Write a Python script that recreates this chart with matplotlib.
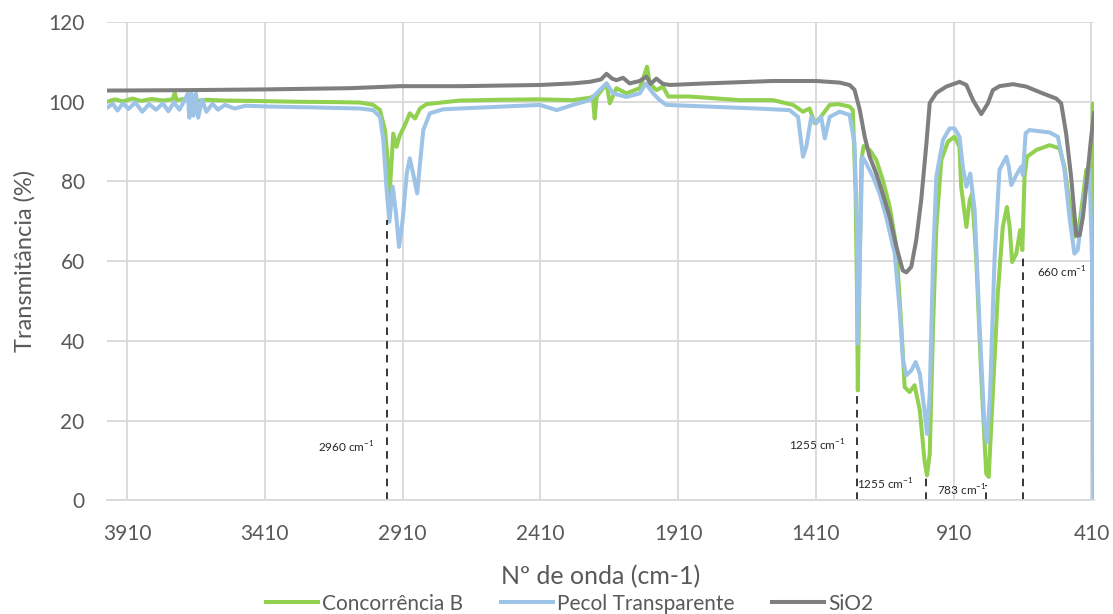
import matplotlib
matplotlib.use("Agg")
import matplotlib.pyplot as plt

plt.rcParams['font.family'] = ['Lato', 'DejaVu Sans']

# ---- data (wavenumber cm-1, transmittance %) ----
conc_wn = [3983, 3955, 3925, 3890, 3860, 3820, 3780, 3745, 3737, 3730, 3700, 3660,
           3620, 3560, 3450, 3300, 3150, 3065, 3017, 2992, 2974, 2962, 2958, 2944,
           2932, 2920, 2902, 2884, 2865, 2847, 2823, 2702, 2550, 2412, 2292, 2230,
           2220, 2213, 2206, 2170, 2158, 2134, 2098, 2049, 2023, 2013, 1989, 1965,
           1946, 1868, 1686, 1566, 1493, 1457, 1433, 1415, 1397, 1360, 1330, 1288,
           1276, 1266, 1261, 1258, 1251, 1245, 1237, 1215, 1191, 1167, 1142, 1118,
           1100, 1088, 1070, 1052, 1033, 1016, 1007, 997, 985, 973, 955, 931, 907,
           889, 883, 864, 852, 843, 828, 810, 792, 783, 768, 750, 732, 717, 707, 698,
           683, 669, 661, 653, 644, 610, 562, 526, 508, 490, 472, 460, 447, 429, 415,
           408, 405, 403]
conc_t = [100.0, 100.6, 100.1, 100.8, 100.2, 100.7, 100.3, 100.6, 102.2, 100.4, 100.7, 100.2,
          100.5, 100.3, 100.2, 100.0, 99.9, 99.8, 99.2, 97.9, 92.9, 83.7, 76.0, 92.0,
          88.7, 91.6, 94.1, 97.1, 95.8, 98.3, 99.4, 100.3, 100.5, 100.6, 100.4, 101.0,
          101.3, 95.8, 101.2, 104.6, 99.6, 103.4, 102.1, 103.4, 108.8, 104.6, 102.9, 103.8,
          101.3, 101.3, 100.4, 100.4, 99.2, 97.5, 98.3, 94.6, 95.8, 99.2, 99.4, 98.8,
          97.9, 77.0, 52.0, 27.6, 60.0, 85.4, 88.9, 87.9, 85.4, 80.3, 73.6, 63.6,
          43.5, 28.4, 27.2, 28.9, 22.6, 10.0, 6.3, 11.7, 43.5, 68.6, 85.4, 90.0, 91.2,
          88.7, 78.7, 68.6, 75.3, 77.0, 60.3, 31.0, 6.7, 5.9, 26.8, 51.9, 68.6, 73.6, 68.6, 59.8,
          61.9, 67.8, 62.8, 81.2, 86.2, 87.9, 89.1, 88.3, 83.7, 74.5, 66.1, 66.5, 72.8, 82.9, 83.7,
          68.6, 99.5, 48.0]

pecol_wn = [3983, 3962, 3945, 3925, 3905, 3880, 3855, 3830, 3805, 3780, 3760, 3740,
            3720, 3700, 3690, 3684, 3676, 3669, 3660, 3652, 3638, 3622, 3600, 3580,
            3555, 3520, 3480, 3400, 3250, 3065, 3017, 2992, 2980, 2968, 2958, 2946,
            2934, 2923, 2910, 2895, 2884, 2872, 2857, 2847, 2835, 2811, 2763, 2702,
            2412, 2351, 2292, 2231, 2170, 2146, 2098, 2049, 2028, 2001, 1977, 1953,
            1807, 1626, 1506, 1475, 1457, 1445, 1427, 1409, 1391, 1378, 1360, 1324,
            1288, 1270, 1261, 1258, 1251, 1242, 1227, 1203, 1179, 1155, 1124, 1106,
            1094, 1082, 1064, 1048, 1033, 1016, 1007, 997, 985, 973, 949, 925, 907,
            889, 877, 864, 850, 834, 816, 798, 789, 778, 762, 744, 719, 710, 701, 683,
            665, 659, 649, 635, 562, 532, 508, 490, 472, 460, 447, 429, 417, 408, 403]
pecol_t = [98.5, 99.5, 97.8, 99.6, 98.2, 99.8, 97.5, 99.4, 98.0, 99.6, 97.6, 99.8,
           98.0, 100.5, 102.0, 96.0, 102.0, 96.5, 102.0, 96.0, 100.5, 97.5, 99.5, 98.0,
           99.2, 98.3, 99.0, 98.8, 98.6, 98.3, 97.9, 96.2, 90.4, 77.8, 69.9, 78.7,
           72.0, 63.6, 70.3, 82.0, 85.8, 82.0, 77.0, 84.5, 92.9, 97.1, 98.1, 98.3,
           99.2, 97.9, 99.2, 100.4, 104.6, 102.1, 101.2, 102.1, 104.6, 102.1, 100.4, 99.2,
           98.8, 98.3, 97.9, 96.2, 86.2, 88.7, 96.2, 94.6, 96.2, 90.8, 96.2, 97.5,
           96.7, 89.6, 68.6, 39.3, 60.3, 86.2, 84.5, 81.2, 77.0, 71.1, 61.9, 47.7,
           35.1, 31.4, 32.6, 34.7, 31.8, 22.6, 16.7, 26.8, 60.3, 81.2, 90.4, 93.3, 93.3,
           91.2, 83.7, 78.7, 82.0, 72.8, 43.5, 18.4, 14.6, 26.8, 60.3, 82.9, 86.2, 83.7, 79.1, 81.6,
           83.7, 81.6, 92.1, 92.9, 92.3, 91.2, 82.9, 71.1, 61.9, 62.8, 70.3, 80.3, 82.9, 60.3, 0.8]

sio2_wn = [3983, 3700, 3400, 3100, 2920, 2700, 2412, 2292, 2230, 2190, 2170, 2150,
           2134, 2110, 2086, 2050, 2025, 2010, 1989, 1966, 1941, 1807, 1567, 1408,
           1324, 1288, 1270, 1251, 1233, 1215, 1191, 1168, 1142, 1118, 1095, 1082,
           1064, 1046, 1028, 1009, 997, 973, 937, 896, 889, 864, 840, 810, 786, 768,
           744, 695, 647, 587, 538, 520, 502, 484, 465, 453, 441, 423, 411, 401]
sio2_t = [102.8, 102.9, 103.1, 103.4, 103.9, 103.9, 104.2, 104.6, 105.0, 105.6, 107.0, 105.8,
          105.4, 106.0, 104.6, 105.2, 106.3, 104.5, 105.8, 104.5, 104.2, 104.6, 105.2, 105.2,
          104.8, 104.2, 103.0, 98.0, 91.2, 86.2, 82.0, 77.0, 71.0, 63.6, 57.7, 57.2,
          58.6, 65.3, 75.3, 89.6, 99.7, 102.2, 103.8, 104.8, 105.0, 104.2, 100.4, 96.9, 99.6, 102.9,
          103.9, 104.4, 103.8, 102.1, 100.8, 99.6, 92.0, 81.2, 66.5, 66.5, 71.1, 82.9, 91.2, 97.1]

# marked bands: position, height of the dashed marker, label
band_wn = [2968, 1260, 1010, 792, 659]
band_top = [70.3, 27.2, 5.9, 3.8, 61.0]
band_labels = ['2960', '1255', '1255', '783', '660']

x_ticks = [3910, 3410, 2910, 2410, 1910, 1410, 910, 410]
y_ticks = [0, 20, 40, 60, 80, 100, 120]

fig = plt.figure(figsize=(11.13, 6.14), dpi=100)
ax = fig.add_axes([0.0961, 0.1849, 0.8868, 0.7793])

ax.plot(conc_wn, conc_t, color='#92D050', lw=2.9, label='Concorrência B', solid_joinstyle='round')
ax.plot(pecol_wn, pecol_t, color='#9DC3E6', lw=2.9, label='Pecol Transparente', solid_joinstyle='round')
ax.plot(sio2_wn, sio2_t, color='#7F7F7F', lw=2.9, label='SiO2', solid_joinstyle='round')

# dashed markers + labels
offsets = [(-12, 'right', 13.3), (-12, 'right', 13.8), (-13, 'right', 4.0), (1, 'right', 2.5), (14, 'left', 57.2)]
for wn, top, lab, (dx, ha, ty) in zip(band_wn, band_top, band_labels, offsets):
    ax.plot([wn, wn], [0, top], color='black', lw=1.1, ls=(0, (5, 4)))
    ax.annotate(lab + r' cm$^{\mathregular{-1}}$', xy=(wn, ty), xytext=(dx, 0),
                textcoords='offset pixels', ha=ha, va='center', fontsize=8.5, color='#262626')

ax.set_xlim(3983, 401)
ax.set_ylim(0, 120)
ax.set_xticks(x_ticks)
ax.set_yticks(y_ticks)
ax.grid(color='#D9D9D9', lw=1.3)
ax.set_axisbelow(True)
for side in ['top', 'right', 'left']:
    ax.spines[side].set_visible(False)
ax.spines['bottom'].set_color('#D9D9D9')
ax.spines['bottom'].set_linewidth(1.3)
ax.tick_params(axis='both', length=0, labelsize=15, labelcolor='#595959')
ax.tick_params(axis='x', pad=17)
ax.tick_params(axis='y', pad=16)

ax.set_xlabel('Nº de onda (cm-1)', fontsize=18, color='#595959', labelpad=15)
ax.set_ylabel('Transmitância (%)', fontsize=17, color='#595959', labelpad=9)

fig.legend(loc='lower center', bbox_to_anchor=(0.512, -0.03), ncol=3, frameon=False,
           fontsize=15, handlelength=2.5, handletextpad=0.2, columnspacing=1.8,
           labelcolor='#595959')

fig.savefig('out.png', dpi=100)
